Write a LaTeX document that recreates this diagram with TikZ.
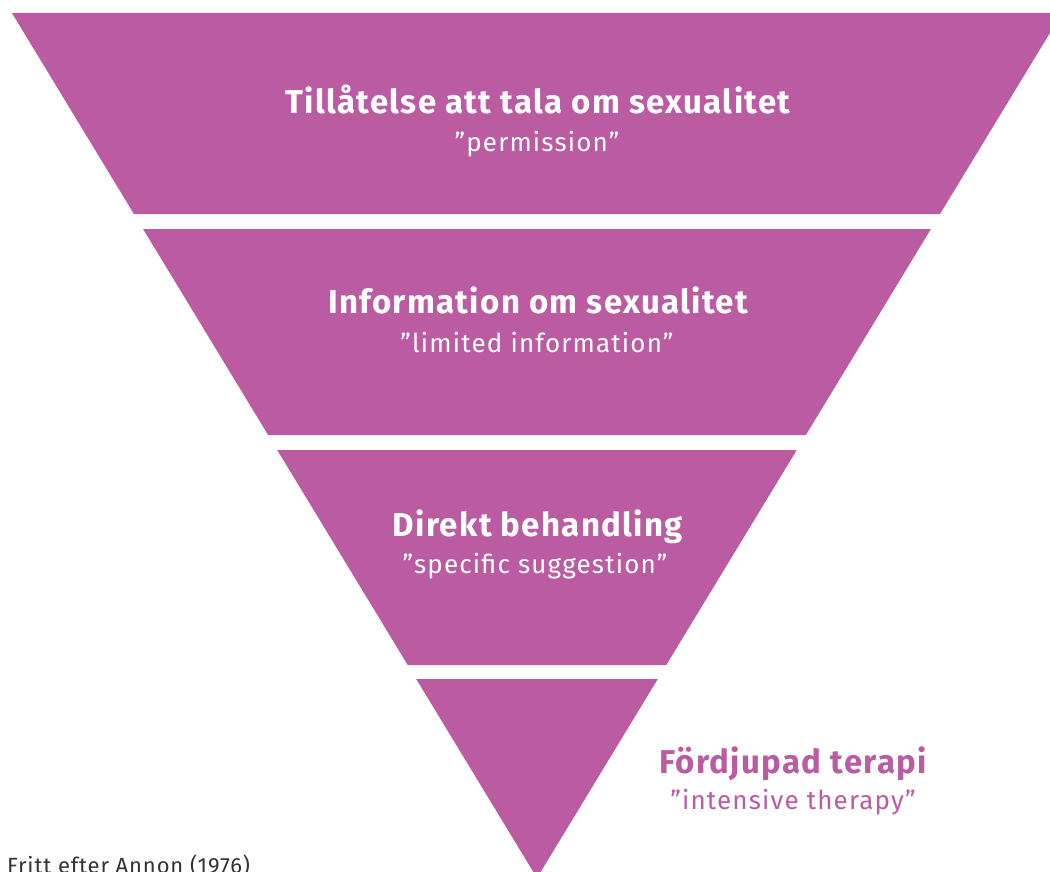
\documentclass[tikz,border=0pt]{standalone}
\usepackage{fontspec}
\setmainfont{Fira Sans}
\usepackage{tikz}
\definecolor{plissit}{RGB}{187,92,162}
\definecolor{kalla}{RGB}{51,51,51}
\tikzset{
  band/.style={fill=plissit},
  rubrik/.style={anchor=base, text=white, font=\fontsize{33}{38}\selectfont\bfseries\addfontfeatures{LetterSpace=4}, inner sep=0pt},
  engelska/.style={anchor=base, text=white, font=\fontsize{26}{30}\selectfont\addfontfeatures{LetterSpace=4.5}, inner sep=0pt}
}
\begin{document}
\begin{tikzpicture}[x=1pt,y=-1pt]
                %\draw[help lines] (0,0) grid (1050,872);
                \useasboundingbox (0,0) rectangle (1050,872);
                \clip (0,0) rectangle (1050,872);
                \foreach \ytop/\ybot in {13/214,229/435,450/665,679/878}
                  \fill[band] ({537-0.607*(878-\ytop)},\ytop) -- ({537+0.607*(878-\ytop)},\ytop)
                    -- ({537+0.607*(878-\ybot)},\ybot) -- ({537-0.607*(878-\ybot)},\ybot) -- cycle;
                \node[rubrik] (tillatelse) at (538,114) {Tillåtelse att tala om sexualitet};
                \node[engelska] (permission) at (537,152) {”permission”};
                \node[rubrik] (information) at (538,313) {Information om sexualitet};
                \node[engelska] (limited) at (537,352) {”limited information”};
                \node[rubrik] (direkt) at (538,536) {Direkt behandling};
                \node[engelska] (specific) at (535,573) {”specific suggestion”};
                \node[rubrik, text=plissit] (fordjupad) at (793,773) {Fördjupad terapi};
                \node[engelska, text=plissit] (intensive) at (793,809) {”intensive therapy”};
                \node[anchor=base west, text=kalla, font=\fontsize{22}{26}\selectfont\addfontfeatures{LetterSpace=4}, inner sep=0pt] (annon) at (7,873) {Fritt efter Annon (1976)};
        \end{tikzpicture}
\end{document}
